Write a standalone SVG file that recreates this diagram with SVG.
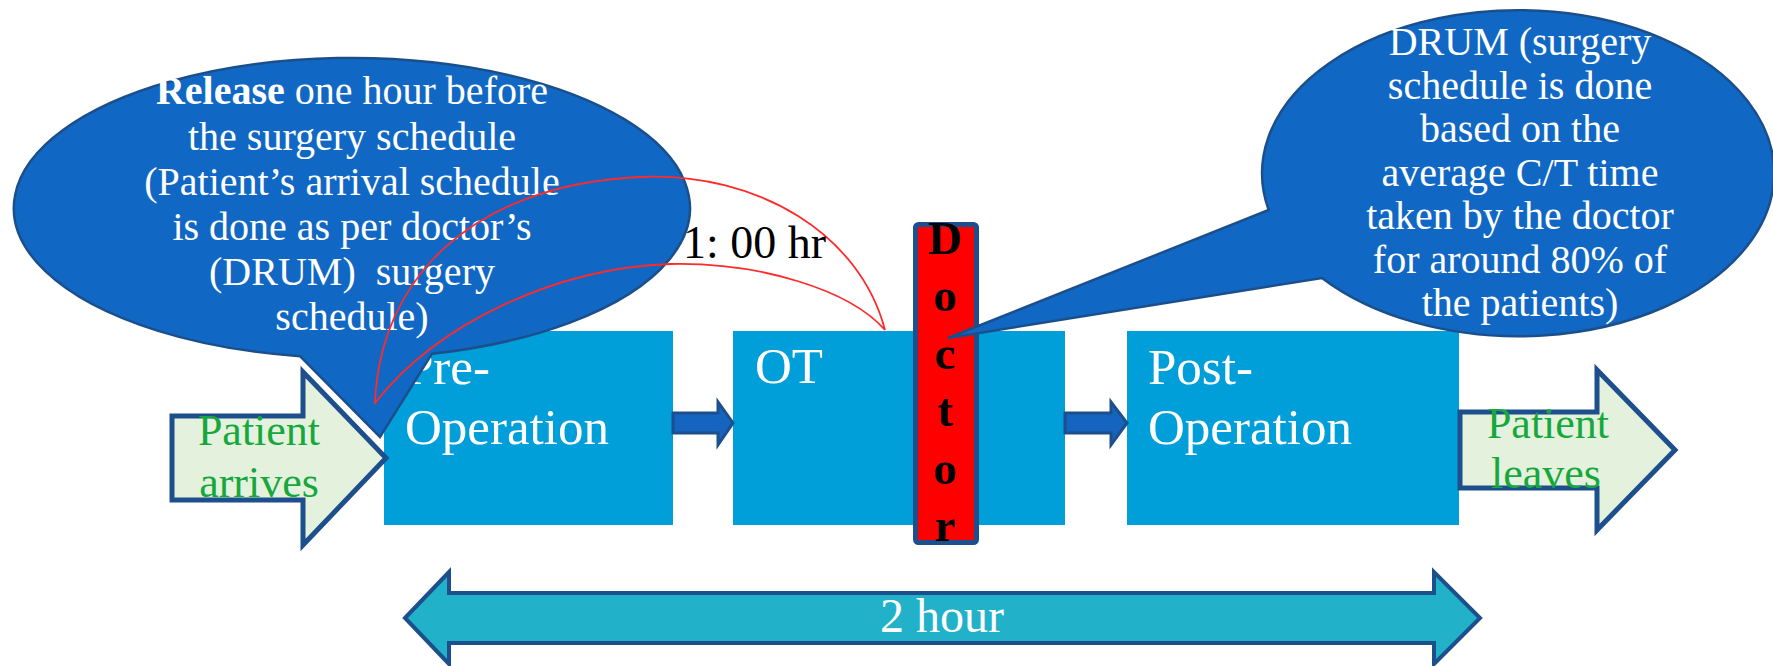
<svg xmlns="http://www.w3.org/2000/svg" width="1773" height="666" viewBox="0 0 1773 666">
  <style>
    .box { fill: #019fd9; }
    .boxlabel { font-family: "Liberation Serif", serif; font-size: 51px; fill: #ffffff; }
    .flow { fill: #1565c0; stroke: #1d4f8c; stroke-width: 3; stroke-linejoin: miter; }
    .patient { fill: #e4f2dd; stroke: #1d4f8c; stroke-width: 5; stroke-linejoin: miter; }
    .patientlabel { font-family: "Liberation Serif", serif; font-size: 44px; fill: #16a83c; text-anchor: middle; }
    .callout { fill: #1168c4; stroke: #1b4f8c; stroke-width: 2.5; }
    .note { font-family: "Liberation Serif", serif; font-size: 40px; fill: #ffffff; text-anchor: middle; }
    .doctor { font-family: "Liberation Serif", serif; font-size: 47px; font-weight: bold; fill: #000000; text-anchor: middle; }
    .span { fill: #21b1c9; stroke: #1d4f8c; stroke-width: 4; stroke-linejoin: miter; }
  </style>
  <rect width="1773" height="666" fill="#ffffff"/>

  <!-- process boxes -->
  <g id="pre-operation">
    <rect class="box" x="384" y="331" width="289" height="194"/>
    <text class="boxlabel" x="405" y="384">Pre-</text>
    <text class="boxlabel" x="405" y="444">Operation</text>
  </g>
  <g id="ot">
    <rect class="box" x="733" y="331" width="332" height="194"/>
    <text class="boxlabel" x="755" y="383">OT</text>
  </g>
  <g id="post-operation">
    <rect class="box" x="1127" y="331" width="332" height="194"/>
    <text class="boxlabel" x="1148" y="384">Post-</text>
    <text class="boxlabel" x="1148" y="444">Operation</text>
  </g>

  <!-- flow arrows between stages -->
  <g id="connectors">
    <polygon class="flow" points="673,413 718,413 718,402 733,423 718,445 718,433 673,433"/>
    <polygon class="flow" points="1065,413 1111,413 1111,402 1127,423 1111,445 1111,433 1065,433"/>
  </g>

  <!-- patient entry / exit -->
  <g id="patient-arrives">
    <polygon class="patient" points="172,416 303,416 303,372 386,458 303,545 303,500 172,500"/>
    <text class="patientlabel" x="259" y="445">Patient</text>
    <text class="patientlabel" x="259" y="497">arrives</text>
  </g>
  <g id="patient-leaves">
    <polygon class="patient" points="1460,412 1597,412 1597,370 1675,450 1597,530 1597,488 1460,488"/>
    <text class="patientlabel" x="1548" y="438">Patient</text>
    <text class="patientlabel" x="1546" y="488">leaves</text>
  </g>

  <!-- constraint resource -->
  <g id="doctor">
    <rect x="915.5" y="224.5" width="61" height="318" rx="3" fill="#ff0000" stroke="#1d4f8c" stroke-width="5"/>
    <text class="doctor" x="945" y="254">D</text>
    <text class="doctor" x="945" y="311">o</text>
    <text class="doctor" x="945" y="369">c</text>
    <text class="doctor" x="945" y="426">t</text>
    <text class="doctor" x="945" y="484">o</text>
    <text class="doctor" x="945" y="541">r</text>
  </g>

  <!-- overall lead time -->
  <g id="lead-time">
    <polygon class="span" points="405,618 449,572 449,593 1434,593 1434,572 1480,618 1434,664 1434,643 449,643 449,664"/>
    <text x="942" y="632" font-family="Liberation Serif, serif" font-size="48" fill="#ffffff" text-anchor="middle">2 hour</text>
  </g>

  <!-- rope: release callout -->
  <g id="release-note">
    <line x1="298" y1="352" x2="378" y2="436" stroke="#ffffff" stroke-width="6"/>
    <path class="callout" d="M300,356.2 L380,437 L432,353.7 A338,150 0 1 0 300,356.2 Z"/>
    <text class="note" y="104">
      <tspan x="352" font-weight="bold">Release</tspan><tspan> one hour before</tspan>
    </text>
    <text class="note" x="352" y="150">the surgery schedule</text>
    <text class="note" x="352" y="195">(Patient’s arrival schedule</text>
    <text class="note" x="352" y="240">is done as per doctor’s</text>
    <text class="note" x="352" y="285" xml:space="preserve">(DRUM)  surgery</text>
    <text class="note" x="352" y="330">schedule)</text>
  </g>

  <!-- buffer link -->
  <g id="buffer">
    <path d="M375,403 C380,280 470,185 640,177 C760,172 860,235 885,330 C850,290 760,262 670,264 C560,268 440,320 375,403 Z" fill="none" stroke="#ff2a2a" stroke-width="1.8"/>
    <text x="683" y="258" font-family="Liberation Serif, serif" font-size="46" fill="#000000">1: 00 hr</text>
  </g>

  <!-- drum callout -->
  <g id="drum-note">
    <path class="callout" d="M1268.7,210 L948,338 L1322,278 A256,163 0 1 0 1268.7,210 Z"/>
    <text class="note" x="1520" y="55">DRUM (surgery</text>
    <text class="note" x="1520" y="99">schedule is done</text>
    <text class="note" x="1520" y="142">based on the</text>
    <text class="note" x="1520" y="186">average C/T time</text>
    <text class="note" x="1520" y="229">taken by the doctor</text>
    <text class="note" x="1520" y="273">for around 80% of</text>
    <text class="note" x="1520" y="316">the patients)</text>
  </g>
</svg>
